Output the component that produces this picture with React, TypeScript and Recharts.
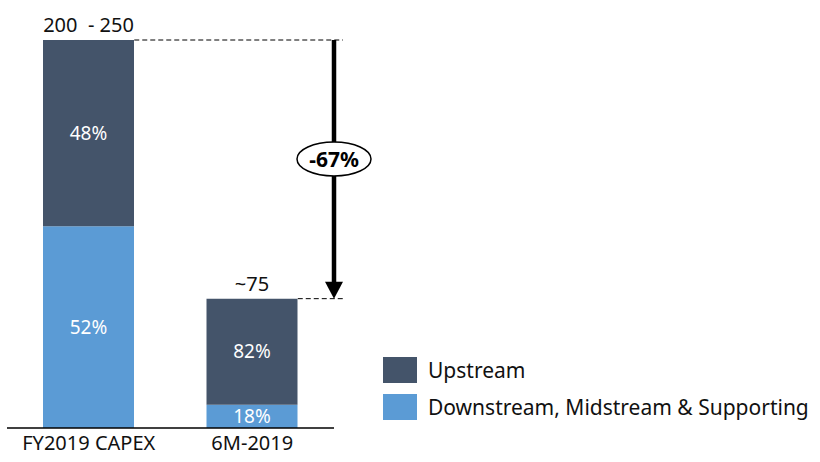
import React from 'react';
import { BarChart, Bar, XAxis, YAxis, LabelList, Customized } from 'recharts';

const CATEGORIES = ['FY2019 CAPEX', '6M-2019'];
const TOTALS = [225, 75];
const TOTAL_LABELS = ['200\u00a0 - 250', '~75'];
const UPSTREAM_PCT = [48, 82];
const DOWNSTREAM_PCT = [52, 18];
const CHANGE_LABEL = '-67%';

const SERIES = [
  { key: 'downstream', pctKey: 'downPct', name: 'Downstream, Midstream & Supporting', color: '#5b9bd5' },
  { key: 'upstream', pctKey: 'upPct', name: 'Upstream', color: '#44546a' },
];

const data = CATEGORIES.map((name, i) => ({
  name,
  upstream: (TOTALS[i] * UPSTREAM_PCT[i]) / 100,
  downstream: (TOTALS[i] * DOWNSTREAM_PCT[i]) / 100,
  upPct: UPSTREAM_PCT[i],
  downPct: DOWNSTREAM_PCT[i],
  totalLabel: TOTAL_LABELS[i],
}));

const W = 820;
const H = 462;
const M = { top: 40, right: 486, bottom: 0, left: 7 };
const AXIS_H = 34;
const PLOT_W = W - M.left - M.right;
const PLOT_H = H - M.top - M.bottom - AXIS_H;
const Y_MAX = 225;
const BAR_SIZE = 91;
const FONT = '"Noto Sans", "Open Sans", sans-serif';

// arrow + dashed guides, placed from the same domain the chart uses
const Overlay = () => {
  const yOf = (v: number) => M.top + PLOT_H * (1 - v / Y_MAX);
  const band = PLOT_W / CATEGORIES.length;
  const barRight = (i: number) => M.left + band * (i + 0.5) + BAR_SIZE / 2;
  const y0 = yOf(TOTALS[0]);
  const y1 = yOf(TOTALS[1]);
  const ax = M.left + PLOT_W;
  const cy = y0 + (y1 - y0) * 0.46;
  return (
    <g>
      <line x1={barRight(0)} y1={y0} x2={ax + 9} y2={y0} stroke="#000" strokeWidth={1} strokeDasharray="5 3" />
      <line x1={barRight(1)} y1={y1} x2={ax + 9} y2={y1} stroke="#000" strokeWidth={1} strokeDasharray="5 3" />
      <line x1={ax} y1={y0} x2={ax} y2={y1 - 16} stroke="#000" strokeWidth={4.5} />
      <polygon points={`${ax - 9},${y1 - 17} ${ax + 9},${y1 - 17} ${ax},${y1}`} fill="#000" />
      <ellipse cx={ax} cy={cy} rx={37} ry={17} fill="#fff" stroke="#000" strokeWidth={1.5} />
      <text x={ax} y={cy} textAnchor="middle" dominantBaseline="central" fontFamily={FONT} fontWeight="bold" fontSize={21} fill="#000">
        {CHANGE_LABEL}
      </text>
    </g>
  );
};

const LegendBox = () => (
  <div style={{ position: 'absolute', left: 383, top: 351, fontFamily: FONT, fontSize: 21, color: '#111' }}>
    {[...SERIES].reverse().map((s) => (
      <div key={s.key} style={{ display: 'flex', alignItems: 'center', height: 37 }}>
        <span style={{ display: 'inline-block', width: 34, height: 26, background: s.color, marginRight: 11 }} />
        <span>{s.name}</span>
      </div>
    ))}
  </div>
);

export default function App() {
  return (
    <div style={{ position: 'absolute', left: 0, top: 0, width: W, height: H, background: '#fff' }}>
      <BarChart width={W} height={H} data={data} margin={M}>
        <XAxis
          dataKey="name"
          height={AXIS_H}
          axisLine={{ stroke: '#000', strokeWidth: 1.5 }}
          tickLine={false}
          tick={{ fill: '#111', fontSize: 20, fontFamily: FONT }}
        />
        <YAxis hide domain={[0, Y_MAX]} />
        {SERIES.map((s) => (
          <Bar key={s.key} dataKey={s.key} name={s.name} stackId="a" fill={s.color} barSize={BAR_SIZE} isAnimationActive={false}>
            <LabelList
              dataKey={s.pctKey}
              position="center"
              formatter={(v: any) => `${v}%`}
              fill="#fff"
              fontSize={19}
              fontFamily={FONT}
            />
            {s.key === 'upstream' && (
              <LabelList dataKey="totalLabel" position="top" offset={8} fill="#111" fontSize={20} fontFamily={FONT} />
            )}
          </Bar>
        ))}
        <Customized component={Overlay} />
      </BarChart>
      <LegendBox />
    </div>
  );
}
